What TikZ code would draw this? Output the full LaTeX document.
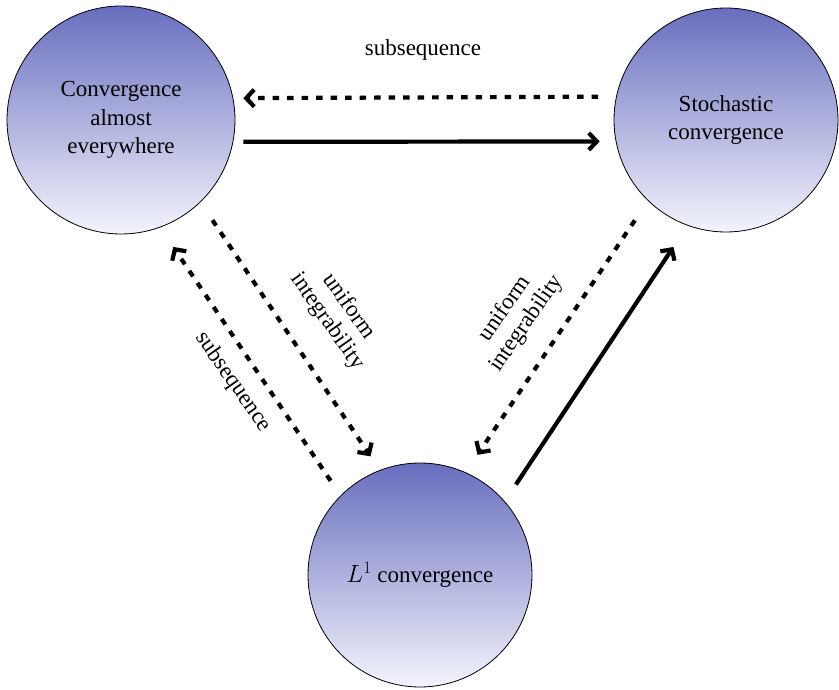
\documentclass[tikz,border=0pt]{standalone}
\usepackage{fontspec}
\setmainfont{Liberation Serif}
\usetikzlibrary{arrows.meta}
\definecolor{topc}{RGB}{104,110,190}
\definecolor{botc}{RGB}{244,244,252}
\tikzset{
  bubble/.style={circle, draw=black, line width=0.8pt, top color=topc, bottom color=botc,
    align=center, inner sep=0pt, font=\fontsize{23}{28.5}\selectfont},
  lbl/.style={align=center, font=\fontsize{23}{26}\selectfont},
  solidarrow/.style={line width=4.2pt, -{Straight Barb[length=8pt,width=17pt]}},
  dasharrow/.style={line width=4.2pt, dash pattern=on 6.5pt off 8pt, -{Straight Barb[length=8pt,width=17pt]}},
}
\begin{document}
\begin{tikzpicture}[x=1pt,y=1pt]
\useasboundingbox (0,0) rectangle (839,-690);
\node[bubble, minimum size=228pt] (A) at (121,-120) {Convergence\\almost\\everywhere};
\node[bubble, minimum size=224pt] (B) at (726,-120) {Stochastic\\convergence};
\node[bubble, minimum size=224pt] (C) at (420,-575) {$L^1$ convergence};

\draw[dasharrow, shorten <=18pt, shorten >=10pt] (B.168.15) -- (A.11.6);
\draw[solidarrow, shorten <=10pt, shorten >=16pt] (A.-11.6) -- (B.191.85);
\draw[dasharrow, shorten <=21.5pt, shorten >=16.5pt] (A.-46.1) -- (C.111.4);
\draw[dasharrow, shorten <=17.75pt, shorten >=23.45pt] (C.135.6) -- (A.-70.6);
\draw[dasharrow, shorten <=23.5pt, shorten >=21.1pt] (B.226) -- (C.66.2);
\draw[solidarrow, shorten <=20.1pt, shorten >=25.6pt] (C.41.6) -- (B.250.9);

\node[lbl] (t1) at (423,-50) {subsequence};
\node[lbl, rotate=-55] (t2) at (338,-314) {uniform\\integrability};
\node[lbl, rotate=-55] (t3) at (233,-382) {subsequence};
\node[lbl, rotate=55] (t4) at (516,-316) {uniform\\integrability};
\end{tikzpicture}
\end{document}
